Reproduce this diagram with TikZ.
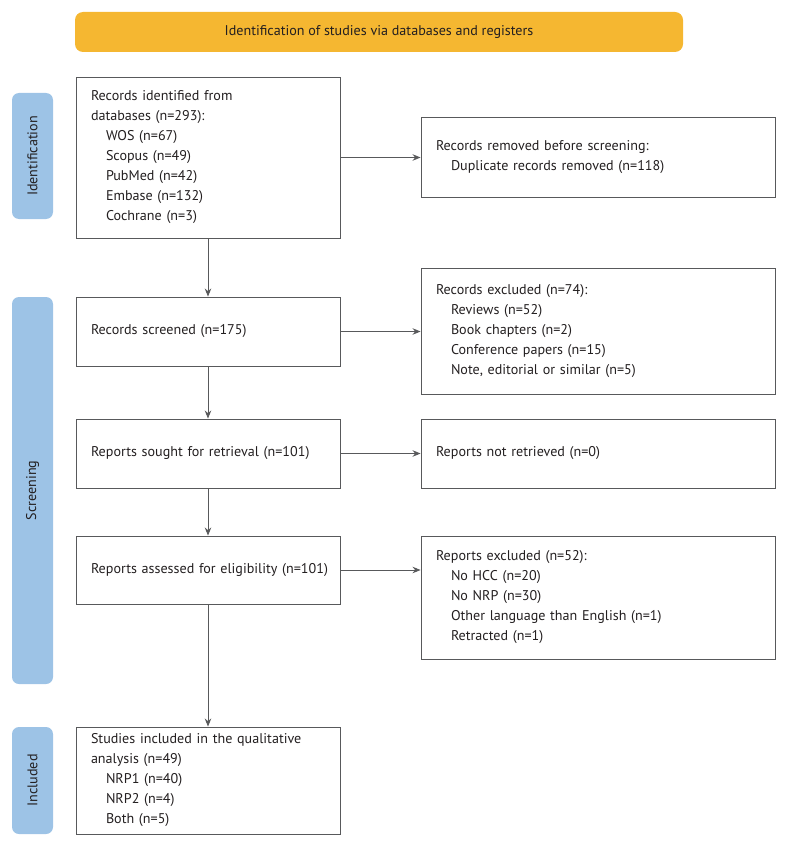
\documentclass[tikz,border=0pt]{standalone}
\usepackage{fontspec}
\setmainfont{PT Sans}
\usetikzlibrary{arrows.meta}
\definecolor{bannercol}{HTML}{F5B731}
\definecolor{sidecol}{HTML}{9DC3E6}
\definecolor{linecol}{HTML}{58595B}
\definecolor{txtcol}{HTML}{231F20}
\newcommand{\ind}{\hspace*{15pt}}
\hfuzz=20pt

\begin{document}
\begin{tikzpicture}[x=1pt,y=-1pt,
  font=\fontsize{14.1}{20}\selectfont, text=txtcol,
  box/.style={draw=linecol,line width=0.9pt,align=left,inner xsep=15pt,inner ysep=0pt},
  lbox/.style={box,text width=234pt},
  rbox/.style={box,text width=324pt},
  side/.style={fill=sidecol,rounded corners=7pt,minimum width=41pt,rotate=90,inner sep=0pt},
  arr/.style={draw=linecol,line width=0.9pt,-{Stealth[length=8pt,width=6.5pt]}}]
\useasboundingbox (0,0) rectangle (789,848);
% banner and phases
\node[fill=bannercol,rounded corners=8pt,minimum width=608pt,minimum height=40pt] (banner) at (379,32) {Identification of studies via databases and registers};
\node[side,minimum width=126pt,minimum height=41pt] (ident) at (32.5,156) {Identification};
\node[side,minimum width=387pt,minimum height=41pt] (screen) at (32.5,490.5) {Screening};
\node[side,minimum width=107pt,minimum height=41pt] (incl) at (32.5,780.5) {Included};
% left column
\node[lbox,minimum height=161pt] (ident1) at (208,157.5) {Records identified from\\databases (n=293):\\\ind WOS (n=67)\\\ind Scopus (n=49)\\\ind PubMed (n=42)\\\ind Embase (n=132)\\\ind Cochrane (n=3)};
\node[lbox,minimum height=69pt] (screened) at (208,331.5) {Records screened (n=175)};
\node[lbox,minimum height=69pt] (sought) at (208,453.5) {Reports sought for retrieval (n=101)};
\node[lbox,minimum height=68pt] (assessed) at (208,570) {\mbox{Reports assessed for eligibility (n=101)}};
\node[lbox,minimum height=107pt] (included) at (208,780.5) {Studies included in the qualitative\\analysis (n=49)\\\ind NRP1 (n=40)\\\ind NRP2 (n=4)\\\ind Both (n=5)};
% right column
\node[rbox,minimum height=80pt] (removed) at (598,157) {Records removed before screening:\\\ind Duplicate records removed (n=118)};
\node[rbox,minimum height=126pt] (excl) at (598,331) {Records excluded (n=74):\\\ind Reviews (n=52)\\\ind Book chapters (n=2)\\\ind Conference papers (n=15)\\\ind Note, editorial or similar (n=5)};
\node[rbox,minimum height=69pt] (notret) at (598,453.5) {Reports not retrieved (n=0)};
\node[rbox,minimum height=123pt] (repexcl) at (598,597.5) {Reports excluded (n=52):\\\ind No HCC (n=20)\\\ind No NRP (n=30)\\\ind Other language than English (n=1)\\\ind Retracted (n=1)};
% connectors
\draw[arr] (ident1) -- (screened);
\draw[arr] (screened) -- (sought);
\draw[arr] (sought) -- (assessed);
\draw[arr] (assessed) -- (included);
\draw[arr] (ident1.east) -- (ident1.east -| removed.west);
\draw[arr] (screened.east) -- (screened.east -| excl.west);
\draw[arr] (sought.east) -- (sought.east -| notret.west);
\draw[arr] (assessed.east) -- (assessed.east -| repexcl.west);
\end{tikzpicture}
\end{document}
